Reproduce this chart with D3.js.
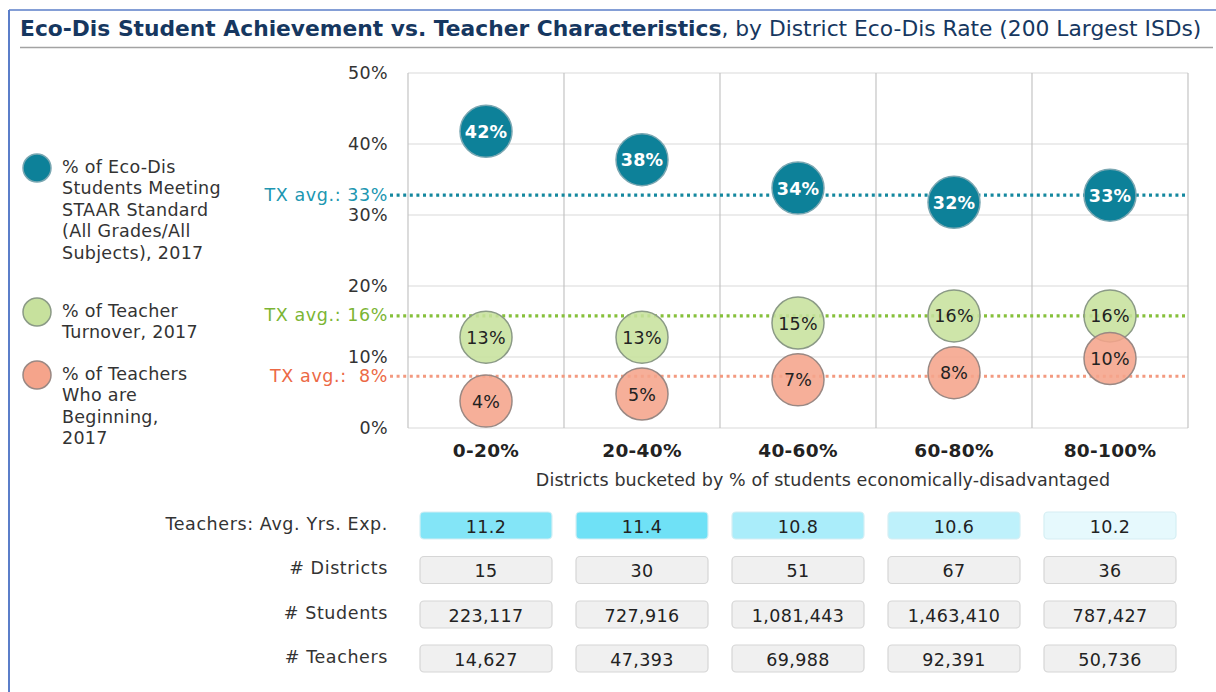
<!DOCTYPE html>
<html>
<head>
<meta charset="utf-8">
<script src="https://cdn.jsdelivr.net/npm/d3@7"></script>
<style>
  body { margin: 0; background: #fff; }
  svg { display: block; font-family: "DejaVu Sans", Verdana, sans-serif; }
  .t { font-size: 17.5px; letter-spacing: 0.4px; }
</style>
</head>
<body>
<div id="chart"></div>
<script>
// buckets of district eco-dis rate
const buckets = ["0-20%", "20-40%", "40-60%", "60-80%", "80-100%"]
const staarMeeting = [42, 38, 34, 32, 33]
const teacherTurnover = [13, 13, 15, 16, 16]
const beginningTeachers = [4, 5, 7, 8, 10]
const txAvg = [33, 16, 7.5]
const txAvgLabels = ["TX avg.: 33%", "TX avg.: 16%", "TX avg.:\u00a0\u00a08%"]
const yTicks = [0, 10, 20, 30, 40, 50]

const avgYrsExp = [11.2, 11.4, 10.8, 10.6, 10.2]
const districtCounts = [15, 30, 51, 67, 36]
const studentCounts = [223117, 727916, 1081443, 1463410, 787427]
const teacherCounts = [14627, 47393, 69988, 92391, 50736]
const rowLabels = ["Teachers: Avg. Yrs. Exp.", "# Districts", "# Students", "# Teachers"]

const legendLines = [
    ["% of Eco-Dis", "Students Meeting", "STAAR Standard", "(All Grades/All", "Subjects), 2017"],
    ["% of Teacher", "Turnover, 2017"],
    ["% of Teachers", "Who are", "Beginning,", "2017"]
]

const W = 1216, H = 692
const svg = d3.select("#chart")
    .append("svg")
    .attr("width", W)
    .attr("height", H)

// frame
svg.append("line").attr("x1", 9).attr("x2", W).attr("y1", 10).attr("y2", 10)
    .attr("stroke", "#5b7ec9").attr("stroke-width", 1.5)
svg.append("line").attr("x1", 9).attr("x2", 9).attr("y1", 10).attr("y2", H)
    .attr("stroke", "#5b7ec9").attr("stroke-width", 2)

// title
const title = svg.append("text")
    .attr("x", 20).attr("y", 36)
    .attr("fill", "#163760")
    .style("font-size", "20px")
title.append("tspan").attr("font-weight", "bold").text("Eco-Dis Student Achievement vs. Teacher Characteristics")
title.append("tspan").text(", by District Eco-Dis Rate (200 Largest ISDs)")
const tw = title.node().getComputedTextLength()
title.style("font-size", (20 * 1182 / tw) + "px")

svg.append("line").attr("x1", 20).attr("x2", W - 3).attr("y1", 47.5).attr("y2", 47.5)
    .attr("stroke", "#a3a3a3").attr("stroke-width", 1.5)

// scales
const x = d3.scaleBand().domain(buckets).range([408, 1188])
const y = d3.scaleLinear().domain([0, 50]).range([428, 73])
const r = 26

// grid
svg.append("g").selectAll("line").data(yTicks).enter().append("line")
    .attr("x1", 408).attr("x2", 1188)
    .attr("y1", d => y(d)).attr("y2", d => y(d))
    .attr("stroke", "#d9d9d9").attr("stroke-width", 1.2)
svg.append("g").selectAll("line").data(d3.range(buckets.length + 1)).enter().append("line")
    .attr("x1", i => 408 + i * x.bandwidth()).attr("x2", i => 408 + i * x.bandwidth())
    .attr("y1", y(50)).attr("y2", y(0))
    .attr("stroke", "#c4c4c4").attr("stroke-width", 1.2)

// y axis
const yAxis = svg.append("g")
    .attr("transform", "translate(408,0)")
    .call(d3.axisLeft(y).tickValues(yTicks).tickFormat(d => d + "%").tickSize(0).tickPadding(20))
yAxis.select(".domain").remove()
yAxis.selectAll("text").attr("class", "t").attr("fill", "#333").style("font-family", "DejaVu Sans")

// x axis labels
const xAxis = svg.append("g")
    .attr("transform", "translate(0,428)")
    .call(d3.axisBottom(x).tickSize(0).tickPadding(16))
xAxis.select(".domain").remove()
xAxis.selectAll("text").style("font-size", "18.5px").style("letter-spacing", "0.3px")
    .attr("font-weight", "bold").attr("fill", "#222")
    .style("font-family", "DejaVu Sans")

svg.append("text")
    .attr("class", "t")
    .attr("x", 823).attr("y", 486)
    .attr("text-anchor", "middle")
    .attr("fill", "#333")
    .style("letter-spacing", "0.1px")
    .text("Districts bucketed by % of students economically-disadvantaged")

// series styles
const series = [
    { values: staarMeeting, fill: "#0d8199", stroke: "#7aa7b2", op: 1, text: "#fff", bold: true, line: "#14889f", lab: "#2096b1" },
    { values: teacherTurnover, fill: "#c7e19d", stroke: "#8b9a86", op: 0.88, text: "#222", bold: false, line: "#86c03b", lab: "#7cb534" },
    { values: beginningTeachers, fill: "#f5a48b", stroke: "#9a8883", op: 0.88, text: "#222", bold: false, line: "#f39a80", lab: "#ec6945" }
]

// TX average dotted lines + labels
series.forEach((s, i) => {
    svg.append("line")
        .attr("x1", 390).attr("x2", 1188)
        .attr("y1", y(txAvg[i]) + 1.5).attr("y2", y(txAvg[i]) + 1.5)
        .attr("stroke", s.line).attr("stroke-width", 3.2)
        .attr("stroke-dasharray", "3,3.6")
    svg.append("text")
        .attr("class", "t")
        .attr("x", 388).attr("y", y(txAvg[i]) + 7)
        .attr("text-anchor", "end")
        .attr("fill", s.lab)
        .style("letter-spacing", "0.6px")
        .text(txAvgLabels[i])
})

// bubbles
series.forEach(s => {
    svg.append("g").selectAll("circle").data(s.values).enter().append("circle")
        .attr("cx", (d, i) => x(buckets[i]) + x.bandwidth() / 2)
        .attr("cy", d => y(d) + 1.5)
        .attr("r", r)
        .attr("fill", s.fill)
        .attr("fill-opacity", s.op)
        .attr("stroke", s.stroke)
        .attr("stroke-width", 1.5)
})
series.forEach(s => {
    svg.append("g").selectAll("text").data(s.values).enter().append("text")
        .attr("class", "t")
        .attr("x", (d, i) => x(buckets[i]) + x.bandwidth() / 2)
        .attr("y", d => y(d) + 8)
        .attr("text-anchor", "middle")
        .attr("fill", s.text)
        .attr("font-weight", s.bold ? "bold" : "normal")
        .style("letter-spacing", "0.2px")
        .text(d => d + "%")
})

// legend
const legendY = [168, 312, 375]
series.forEach((s, i) => {
    svg.append("circle")
        .attr("cx", 37).attr("cy", legendY[i]).attr("r", 14)
        .attr("fill", s.fill).attr("stroke", s.stroke).attr("stroke-width", 1.5)
    svg.append("g").selectAll("text").data(legendLines[i]).enter().append("text")
        .attr("class", "t")
        .attr("x", 62)
        .attr("y", (d, j) => legendY[i] + 4.5 + j * 21.6)
        .attr("fill", "#333")
        .style("letter-spacing", "0.3px")
        .text(d => d)
})

// table below chart
const fmt = d3.format(",")
const rows = [avgYrsExp.map(d => d.toFixed(1)), districtCounts.map(fmt), studentCounts.map(fmt), teacherCounts.map(fmt)]
const rowY = [525.5, 570, 614.5, 658.5]
const heat = d3.scaleLinear().domain([10.2, 11.4]).range(["#e6f9fd", "#6fe1f6"])
const cellW = 132, cellH = 27

rows.forEach((row, ri) => {
    svg.append("text")
        .attr("class", "t")
        .attr("x", 388).attr("y", rowY[ri] + 4)
        .attr("text-anchor", "end")
        .attr("fill", "#333")
        .style("letter-spacing", "0.6px")
        .text(rowLabels[ri])
    const g = svg.append("g")
    g.selectAll("rect").data(row).enter().append("rect")
        .attr("x", (d, i) => x(buckets[i]) + x.bandwidth() / 2 - cellW / 2)
        .attr("y", rowY[ri] - cellH / 2)
        .attr("width", cellW).attr("height", cellH)
        .attr("rx", 4)
        .attr("fill", (d, i) => ri === 0 ? heat(avgYrsExp[i]) : "#f0f0f0")
        .attr("stroke", (d, i) => ri === 0 ? "#d5eef3" : "#d6d6d6")
        .attr("stroke-width", 1.2)
    g.selectAll("text").data(row).enter().append("text")
        .attr("class", "t")
        .attr("x", (d, i) => x(buckets[i]) + x.bandwidth() / 2)
        .attr("y", rowY[ri] + 7)
        .attr("text-anchor", "middle")
        .attr("fill", "#222")
        .text(d => d)
})
</script>
</body>
</html>
